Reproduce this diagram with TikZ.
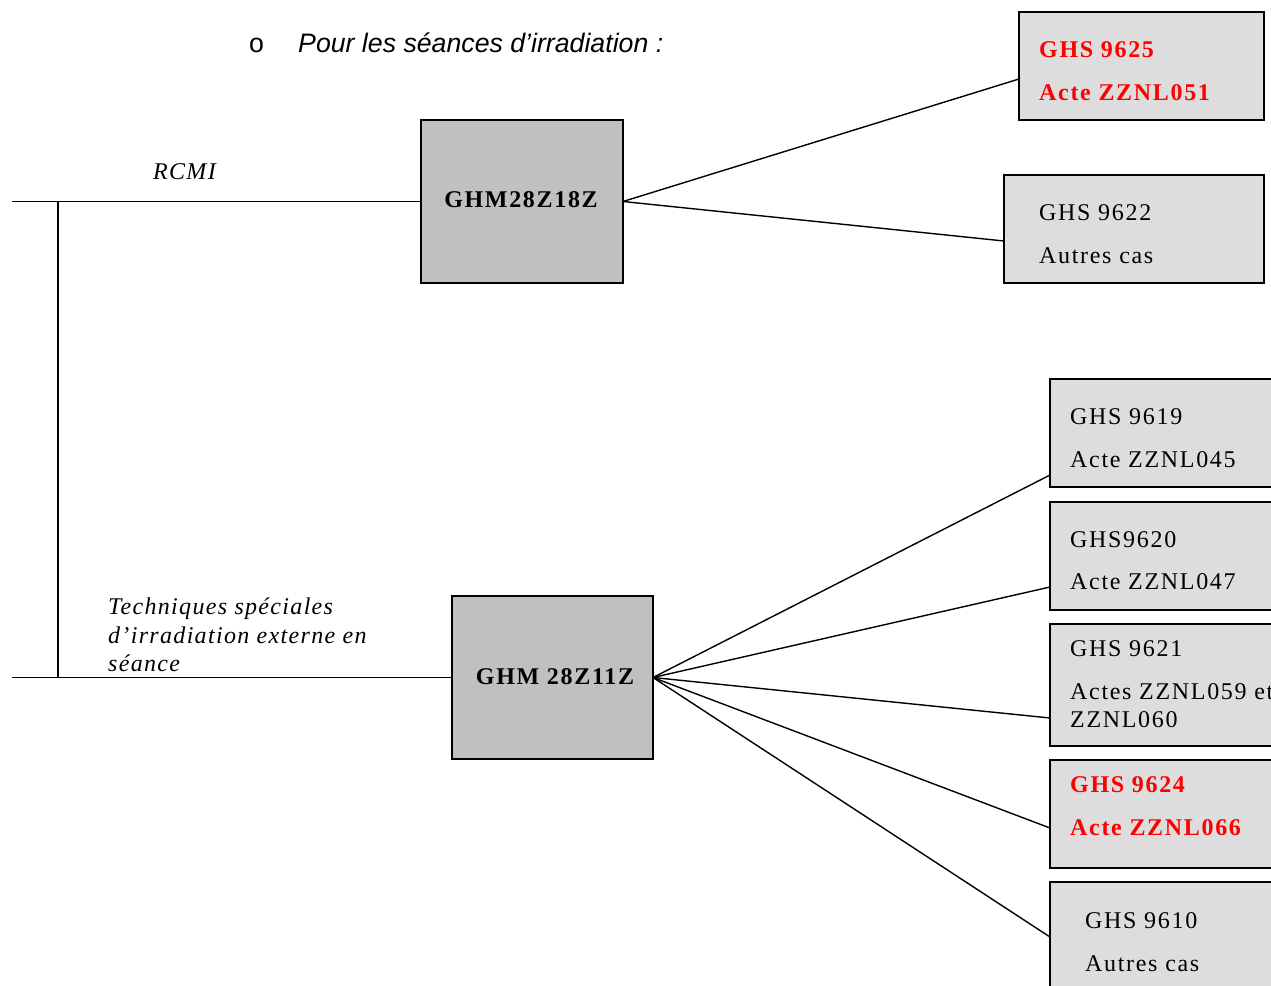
\documentclass[tikz,border=0pt]{standalone}
\usepackage{fontspec}
\setmainfont{Liberation Serif}[LetterSpace=7]
\newfontfamily\itserif{Liberation Serif}[LetterSpace=5.5]
\newfontfamily\arialfont{Liberation Sans}
\usetikzlibrary{calc}
\definecolor{ghmgray}{HTML}{C0C0C0}
\definecolor{ghsgray}{HTML}{DDDDDD}
\definecolor{hired}{HTML}{FF0000}
\begin{document}
\begin{tikzpicture}[x=1pt,y=-1pt,
  ghmbox/.style={draw, line width=1.8pt, fill=ghmgray, anchor=north west, inner sep=0pt, outer sep=0pt},
  ghsbox/.style={draw, line width=1.8pt, fill=ghsgray, anchor=north west, inner sep=0pt, outer sep=0pt},
  link/.style={line width=1.4pt},
  txt/.style={anchor=base west, inner sep=0pt, font=\fontsize{24}{29}\selectfont},
  hot/.style={txt, text=hired, font=\fontsize{24}{29}\selectfont\bfseries},
  ital/.style={txt, font=\itserif\fontsize{24}{29}\selectfont\itshape},
  boldc/.style={anchor=base, inner sep=0pt, font=\fontsize{24}{29}\selectfont\bfseries},
  titlefont/.style={anchor=base west, inner sep=0pt, font=\arialfont\fontsize{26.7}{30}\selectfont}
]
\useasboundingbox (0,0) rectangle (1271,985);
\clip (0,0) rectangle (1271,985);

% title
\node[titlefont] (bullet) at (249,52) {o};
\node[titlefont, font=\arialfont\fontsize{26.7}{30}\selectfont\itshape] (title) at (298,52) {Pour les séances d’irradiation :};

% GHM boxes
\node[ghmbox, minimum width=202pt, minimum height=163pt] (m1) at (421,120) {};
\node[ghmbox, minimum width=201pt, minimum height=163pt] (m2) at (452,596) {};
\node[boldc] (m1t) at (521,207) {GHM28Z18Z};
\node[boldc] (m2t) at (555,684) {GHM 28Z11Z};

% GHS boxes
\node[ghsbox, minimum width=245pt, minimum height=108pt] (b1) at (1019,12) {};
\node[ghsbox, minimum width=260pt, minimum height=108pt] (b2) at (1004,175) {};
\node[ghsbox, minimum width=260pt, minimum height=108pt] (r1) at (1050,379) {};
\node[ghsbox, minimum width=260pt, minimum height=108pt] (r2) at (1050,502) {};
\node[ghsbox, minimum width=260pt, minimum height=122pt] (r3) at (1050,624) {};
\node[ghsbox, minimum width=260pt, minimum height=108pt] (r4) at (1050,760) {};
\node[ghsbox, minimum width=260pt, minimum height=130pt] (r5) at (1050,882) {};

% texts in GHS boxes
\node[hot] (b1a) at (1039,57) {GHS 9625};
\node[hot] (b1b) at (1039,100) {Acte ZZNL051};
\node[txt] (b2a) at (1039,220) {GHS 9622};
\node[txt] (b2b) at (1039,263) {Autres cas};
\node[txt] (r1a) at (1070,424) {GHS 9619};
\node[txt] (r1b) at (1070,467) {Acte ZZNL045};
\node[txt] (r2a) at (1070,547) {GHS9620};
\node[txt] (r2b) at (1070,589) {Acte ZZNL047};
\node[txt] (r3a) at (1070,656) {GHS 9621};
\node[txt] (r3b) at (1070,699) {Actes ZZNL059 et};
\node[txt] (r3c) at (1070,727) {ZZNL060};
\node[hot] (r4a) at (1070,792) {GHS 9624};
\node[hot] (r4b) at (1070,835) {Acte ZZNL066};
\node[txt] (r5a) at (1085,928) {GHS 9610};
\node[txt] (r5b) at (1085,971) {Autres cas};

% left labels
\node[ital] (rcmi) at (153,179) {RCMI};
\node[ital] (tech1) at (108,614) {Techniques spéciales};
\node[ital] (tech2) at (108,643) {d’irradiation externe en};
\node[ital] (tech3) at (108,671) {séance};

% trunk lines
\coordinate (L1) at (12,201.5);
\coordinate (L2) at (12,677.5);
\coordinate (V1) at (58,201.5);
\coordinate (V2) at (58,677.5);
\draw[link] (L1) -- (m1.west);
\draw[link] (L2) -- (m2.west);
\draw[link] (V1) -- (V2);

% branches
\draw[link] (m1.east) -- ($(b1.north west)+(0,67)$);
\draw[link] (m1.east) -- ($(b2.north west)+(0,66)$);
\draw[link] (m2.east) -- ($(r1.north west)+(0,96)$);
\draw[link] (m2.east) -- ($(r2.north west)+(0,85)$);
\draw[link] (m2.east) -- ($(r3.north west)+(0,94)$);
\draw[link] (m2.east) -- ($(r4.north west)+(0,68)$);
\draw[link] (m2.east) -- ($(r5.north west)+(0,55)$);
\end{tikzpicture}
\end{document}
